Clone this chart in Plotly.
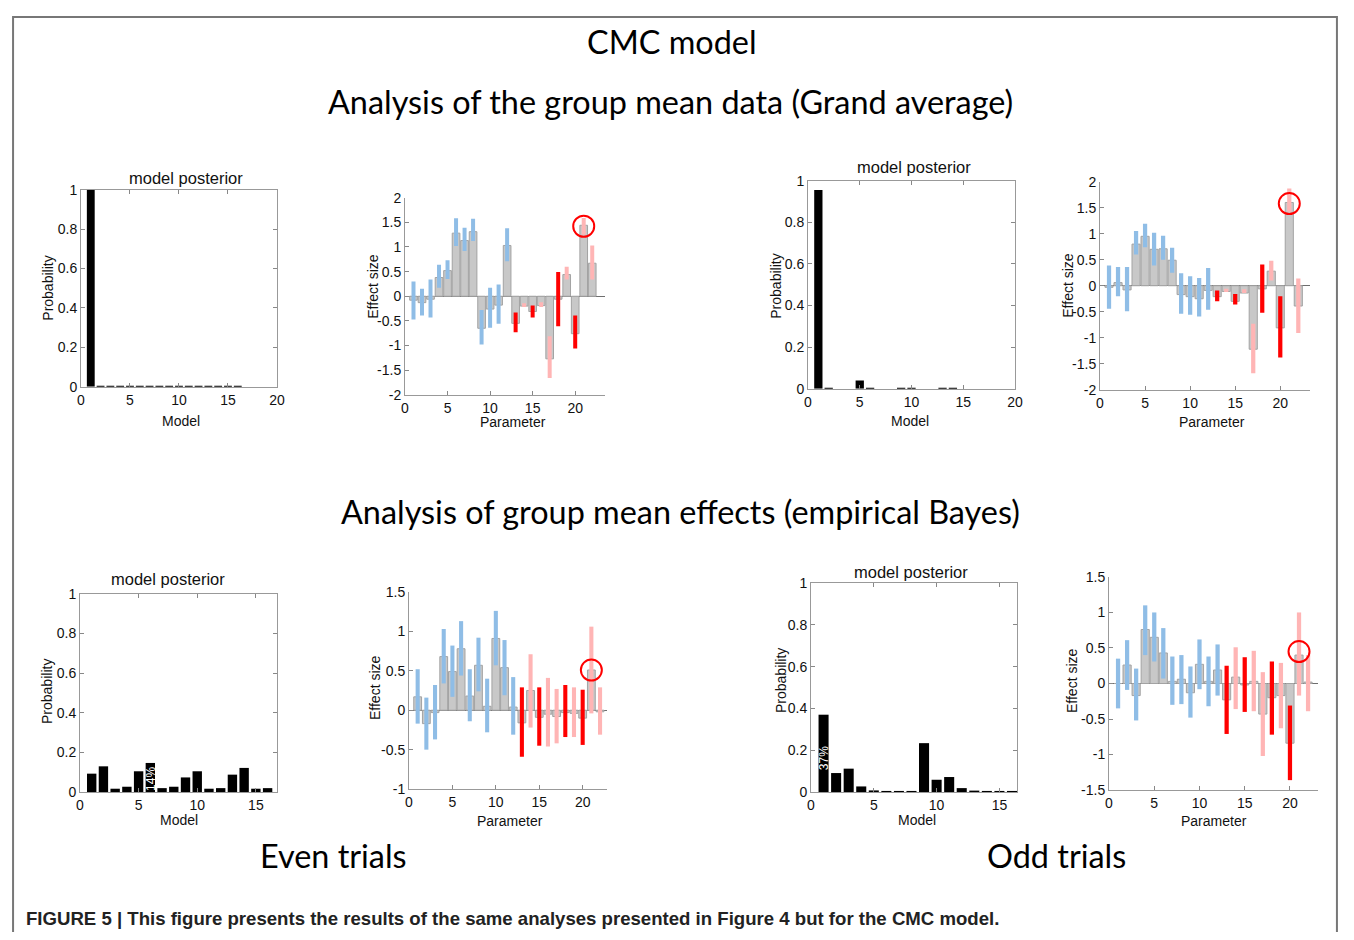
import plotly.graph_objects as go

# page is 1354x940; the browser body keeps its default 8px margin,
# so the figure itself is 1338x924 placed at (8, 8)
PAGE_W, PAGE_H = 1354, 940
OFF = 8
W, H = PAGE_W - 2 * OFF, PAGE_H - 2 * OFF
# measured photo mapping: shown = S*page + B  (per axis)
SX, BX = 0.991, 4.1
SY, BY = 0.982, 8.6

# ---------------- data ----------------
params = list(range(1, 23))
models = list(range(1, 17))
# CI colour class per parameter: b = blue, r = red, p = pink
ci_class = ['b'] * 12 + ['r', 'p', 'r', 'p', 'p', 'r', 'p', 'r', 'p', 'p']

# Grand average, left
post_A = [1.0, 0.003, 0.001, 0.001, 0.003, 0.003, 0.001, 0.001,
          0.003, 0.003, 0.001, 0.001, 0.003, 0.003, 0.001, 0.001]
eff_B_mean = [-0.08, -0.13, -0.06, 0.38, 0.52, 1.28, 1.13, 1.31, -0.65, -0.26, -0.18,
              1.03, -0.55, -0.2, -0.31, -0.19, -1.27, -0.06, 0.44, -0.76, 1.44, 0.67]
eff_B_lo = [-0.47, -0.39, -0.43, 0.17, 0.35, 1.02, 0.92, 1.12, -0.98, -0.64, -0.56,
            0.71, -0.73, -0.22, -0.43, -0.22, -1.66, -0.61, 0.34, -1.06, 1.25, 0.34]
eff_B_hi = [0.30, 0.15, 0.34, 0.64, 0.73, 1.58, 1.39, 1.57, -0.28, 0.17, 0.24,
            1.38, -0.33, -0.14, -0.19, -0.12, -0.81, 0.49, 0.60, -0.39, 1.59, 1.03]
circle_B = 1.42

# Grand average, right
post_C = [0.955, 0.003, 0.0, 0.0, 0.04, 0.003, 0.0, 0.0,
          0.002, 0.002, 0.0, 0.0, 0.002, 0.002, 0.0, 0.0]
eff_D_mean = [-0.03, 0.06, -0.08, 0.80, 0.95, 0.70, 0.71, 0.49, -0.17, -0.21, -0.25,
              -0.09, -0.21, -0.11, -0.30, -0.14, -1.22, -0.06, 0.28, -0.81, 1.60, -0.39]
eff_D_lo = [-0.44, -0.20, -0.49, 0.60, 0.74, 0.39, 0.50, 0.25, -0.54, -0.56, -0.59,
            -0.46, -0.30, -0.12, -0.36, -0.14, -1.68, -0.52, 0.10, -1.38, 1.42, -0.91]
eff_D_hi = [0.39, 0.36, 0.36, 1.05, 1.19, 1.02, 0.96, 0.73, 0.24, 0.18, 0.15,
            0.34, -0.09, -0.06, -0.16, -0.07, -0.73, 0.41, 0.48, -0.20, 1.87, 0.14]
circle_D = 1.58

# Empirical Bayes, even trials
post_E = [0.093, 0.13, 0.017, 0.027, 0.105, 0.147, 0.02, 0.027,
          0.074, 0.105, 0.017, 0.02, 0.088, 0.122, 0.017, 0.02]
eff_F_mean = [0.17, -0.17, -0.03, 0.68, 0.49, 0.78, 0.18, 0.57, 0.05, 0.91, 0.54,
              0.04, -0.16, 0.25, -0.09, -0.05, -0.08, -0.03, -0.04, -0.10, 0.51, -0.02]
eff_F_lo = [-0.17, -0.50, -0.37, 0.34, 0.17, 0.44, -0.14, 0.24, -0.28, 0.57, 0.19,
            -0.31, -0.59, -0.22, -0.45, -0.46, -0.42, -0.34, -0.34, -0.44, -0.04, -0.31]
eff_F_hi = [0.52, 0.16, 0.32, 1.03, 0.82, 1.13, 0.52, 0.92, 0.40, 1.26, 0.89,
            0.42, 0.29, 0.71, 0.29, 0.41, 0.27, 0.32, 0.29, 0.26, 1.06, 0.29]
circle_F = 0.51

# Empirical Bayes, odd trials
post_G = [0.37, 0.091, 0.112, 0.027, 0.008, 0.002, 0.002, 0.002,
          0.234, 0.059, 0.072, 0.019, 0.007, 0.002, 0.002, 0.002]
eff_H_mean = [0.0, 0.26, -0.17, 0.76, 0.65, 0.43, 0.03, 0.06, -0.13, 0.27, 0.03,
              0.19, -0.23, 0.09, -0.02, 0.03, -0.43, -0.20, -0.17, -0.84, 0.40, 0.02]
eff_H_lo = [-0.35, -0.09, -0.52, 0.40, 0.31, 0.07, -0.30, -0.29, -0.48, -0.08, -0.32,
            -0.17, -0.71, -0.36, -0.40, -0.39, -1.02, -0.72, -0.63, -1.36, -0.17, -0.39]
eff_H_hi = [0.35, 0.61, 0.21, 1.10, 1.00, 0.78, 0.38, 0.40, 0.24, 0.62, 0.38,
            0.55, 0.25, 0.51, 0.37, 0.46, 0.16, 0.31, 0.29, -0.31, 1.00, 0.40]
circle_H = 0.45

eff_ticks_2 = [-2, -1.5, -1, -0.5, 0, 0.5, 1, 1.5, 2]
eff_ticks_15 = [-1.5, -1, -0.5, 0, 0.5, 1, 1.5]
eff_ticks_F = [-1, -0.5, 0, 0.5, 1, 1.5]
prob_ticks = [0, 0.2, 0.4, 0.6, 0.8, 1]

# ---------------- styling ----------------
CI_COL = {'b': '#8fbde6', 'r': '#ff0000', 'p': '#ffb5b5'}
SANS = 'Liberation Sans, Arial, sans-serif'
TICKFONT = dict(family=SANS, size=14, color='#111')
LABFONT = dict(family=SANS, size=14, color='#111')
BIGFONT = dict(family='Lato, Open Sans, sans-serif', size=32.4, color='#000')


def fx(r):
    page = (r - BX) / SX
    return (page - OFF) / W


def fy(r):
    page = (r - BY) / SY
    return 1 - (page - OFF) / H


def fmt(v):
    return '%g' % v


def label(x, y, text, font, angle=0, xanchor='center'):
    return dict(x=fx(x), y=fy(y), xref='paper', yref='paper', text=text, showarrow=False,
                font=font, textangle=angle, xanchor=xanchor, yanchor='middle')


panels = [
    dict(kind='post', post=post_A, box=(81, 277, 190, 387), xr=[0, 20], xt=[0, 5, 10, 15, 20],
         title=(186, 178), ylab=(48, 288), xlab=(181, 421), pct=None),
    dict(kind='eff', mean=eff_B_mean, lo=eff_B_lo, hi=eff_B_hi, circ=circle_B,
         box=(405, 605, 198, 395), xr=[0, 23.5], yr=[-2, 2], yt=eff_ticks_2,
         ylab=(373, 286), xlab=(513, 422)),
    dict(kind='post', post=post_C, box=(808, 1015, 181, 389), xr=[0, 20], xt=[0, 5, 10, 15, 20],
         title=(914, 167), ylab=(776, 286), xlab=(910, 421), pct=None),
    dict(kind='eff', mean=eff_D_mean, lo=eff_D_lo, hi=eff_D_hi, circ=circle_D,
         box=(1100, 1310, 182, 390), xr=[0, 23.3], yr=[-2, 2], yt=eff_ticks_2,
         ylab=(1068, 286), xlab=(1212, 422)),
    dict(kind='post', post=post_E, box=(80, 277, 594, 792), xr=[0, 16.8], xt=[0, 5, 10, 15],
         title=(168, 579), ylab=(47, 691), xlab=(179, 820), pct=(6, 0.068, '14%')),
    dict(kind='eff', mean=eff_F_mean, lo=eff_F_lo, hi=eff_F_hi, circ=circle_F,
         box=(409, 607, 592, 789), xr=[0, 22.8], yr=[-1, 1.5], yt=eff_ticks_F,
         ylab=(375, 687), xlab=(510, 821)),
    dict(kind='post', post=post_G, box=(811, 1017, 583, 792), xr=[0, 16.4], xt=[0, 5, 10, 15],
         title=(911, 572), ylab=(781, 680), xlab=(917, 820), pct=(1, 0.16, '37%')),
    dict(kind='eff', mean=eff_H_mean, lo=eff_H_lo, hi=eff_H_hi, circ=circle_H,
         box=(1109, 1318, 577, 790), xr=[0, 23.1], yr=[-1.5, 1.5], yt=eff_ticks_15,
         ylab=(1072, 681), xlab=(1214, 821)),
]

fig = go.Figure()
layout = dict(width=W, height=H, autosize=False, margin=dict(l=0, r=0, t=0, b=0, pad=0),
              paper_bgcolor='white', plot_bgcolor='white', showlegend=False,
              barmode='overlay')
annotations = []
shapes = []

for i, p in enumerate(panels, start=1):
    xa = 'x' if i == 1 else 'x%d' % i
    ya = 'y' if i == 1 else 'y%d' % i
    xkey = 'xaxis' if i == 1 else 'xaxis%d' % i
    ykey = 'yaxis' if i == 1 else 'yaxis%d' % i
    x0, x1, y0, y1 = p['box']
    common = dict(ticks='inside', ticklen=4, tickcolor='#888', tickfont=TICKFONT,
                  showgrid=False, linecolor='#999', linewidth=1, showline=True,
                  fixedrange=True)
    if p['kind'] == 'post':
        fig.add_trace(go.Bar(x=models, y=p['post'], width=0.8,
                             marker=dict(color='black', line=dict(width=0)),
                             xaxis=xa, yaxis=ya))
        layout[xkey] = dict(domain=[fx(x0), fx(x1)], anchor=ya, range=p['xr'],
                            tickvals=p['xt'], ticktext=[fmt(v) for v in p['xt']],
                            mirror='allticks', zeroline=False, **common)
        layout[ykey] = dict(domain=[fy(y1), fy(y0)], anchor=xa, range=[0, 1],
                            tickvals=prob_ticks, ticktext=[fmt(v) for v in prob_ticks],
                            mirror='allticks', zeroline=False, **common)
        annotations.append(label(p['title'][0], p['title'][1], 'model posterior', dict(LABFONT, size=16.5)))
        annotations.append(label(p['xlab'][0], p['xlab'][1], 'Model', LABFONT))
        annotations.append(label(p['ylab'][0], p['ylab'][1], 'Probability', LABFONT, angle=-90))
        if p['pct']:
            bx, by, txt = p['pct']
            annotations.append(dict(x=bx, y=by, xref=xa, yref=ya, text=txt, showarrow=False,
                                    textangle=-90, xanchor='center', yanchor='middle',
                                    font=dict(family=SANS, size=12, color='white')))
    else:
        cols = [CI_COL[c] for c in ci_class]
        fig.add_trace(go.Bar(x=params, y=p['mean'], width=0.9,
                             marker=dict(color='#c8c8c8', line=dict(color='#a3a3a3', width=1)),
                             xaxis=xa, yaxis=ya))
        fig.add_trace(go.Bar(x=params, y=[h - l for h, l in zip(p['hi'], p['lo'])], base=p['lo'],
                             width=0.47, marker=dict(color=cols, line=dict(width=0)),
                             xaxis=xa, yaxis=ya))
        fig.add_trace(go.Scatter(x=[21], y=[p['circ']], mode='markers',
                                 marker=dict(symbol='circle-open', size=21, color='red',
                                             line=dict(width=2, color='red')),
                                 xaxis=xa, yaxis=ya))
        layout[xkey] = dict(domain=[fx(x0), fx(x1)], anchor=ya, range=p['xr'],
                            tickvals=[0, 5, 10, 15, 20], ticktext=['0', '5', '10', '15', '20'],
                            zeroline=False, **common)
        layout[ykey] = dict(domain=[fy(y1), fy(y0)], anchor=xa, range=p['yr'],
                            tickvals=p['yt'], ticktext=[fmt(v) for v in p['yt']],
                            zeroline=True, zerolinecolor='#6e6e6e', zerolinewidth=1, **common)
        annotations.append(label(p['xlab'][0], p['xlab'][1], 'Parameter', LABFONT))
        annotations.append(label(p['ylab'][0], p['ylab'][1], 'Effect size', LABFONT, angle=-90))

# big texts
big = [
    ('CMC model', 672, 42),
    ('Analysis of the group mean data (Grand average)', 671, 102),
    ('Analysis of group mean effects (empirical Bayes)', 681, 512),
    ('Even trials', 334, 855),
    ('Odd trials', 1056, 855),
]
for txt, x, y in big:
    annotations.append(label(x, y, txt, BIGFONT))

annotations.append(label(24, 918,
                         '<b>FIGURE 5 | This figure presents the results of the same analyses presented in Figure 4 but for the CMC model.</b>',
                         dict(family=SANS, size=18.6, color='#222'), xanchor='left'))

# light frame around the figure panel (as far as the canvas allows)
shapes.append(dict(type='rect', xref='paper', yref='paper', x0=0.0008, x1=0.9992, y0=-0.01, y1=0.9989,
                   line=dict(color='#777', width=2), fillcolor='rgba(0,0,0,0)', layer='above'))

layout['annotations'] = annotations
layout['shapes'] = shapes
fig.update_layout(**layout)

fig.write_html("out.html", include_plotlyjs=True, config={'displayModeBar': False})
